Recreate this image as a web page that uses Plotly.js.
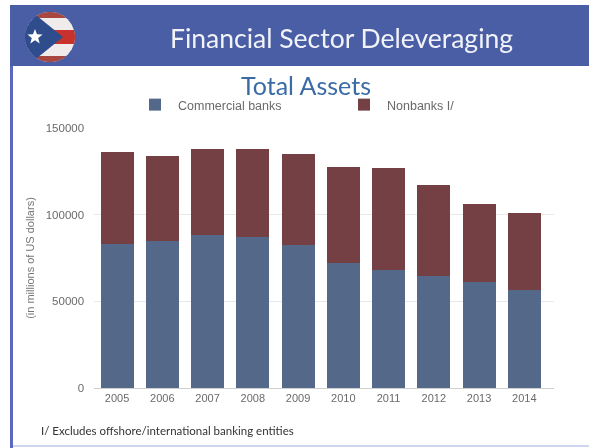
<!DOCTYPE html>
<html><head><meta charset="utf-8">
<script src="https://cdn.plot.ly/plotly-3.0.1.min.js"></script>
<style>html,body{margin:0;padding:0;background:#fff;overflow:hidden}#c{width:589px;height:448px;filter:blur(.4px)}</style>
</head><body><div id="c"></div>
<script>
const years=['2005','2006','2007','2008','2009','2010','2011','2012','2013','2014'];
const commercialBanks=[83000,85000,88000,87000,82500,72000,68000,64500,61000,56500];
const nonbanks=[53000,49000,50000,51000,52500,55500,59000,52500,45000,44500];
const W=589,H=448;
const px=x=>x/W, py=y=>1-y/H;
const rect=(x0,y0,x1,y1,fill)=>({type:'rect',xref:'paper',yref:'paper',layer:'below',x0:px(x0),x1:px(x1),y0:py(y0),y1:py(y1),fillcolor:fill,line:{width:0}});
const poly=(pts,fill)=>({type:'path',xref:'paper',yref:'paper',path:'M'+pts.map(p=>px(p[0])+','+py(p[1])).join('L')+'Z',fillcolor:fill,line:{width:0}});
const star=(cx,cy,r)=>{const o=[];for(let i=0;i<10;i++){const a=-Math.PI/2+i*Math.PI/5,q=i%2?r*.42:r;o.push([cx+q*Math.cos(a),cy+q*Math.sin(a)]);}return o;};
const FX=50,FY=37,FR=25;
const arc=(a0,a1)=>{const o=[];for(let i=0;i<=24;i++){const a=(a0+(a1-a0)*i/24)*Math.PI/180;o.push([FX+FR*Math.cos(a),FY+FR*Math.sin(a)]);}return o;};
const band=(y0,y1)=>{const a=y=>Math.asin((y-FY)/FR)*180/Math.PI;return arc(a(y0),a(y1)).concat(arc(180-a(y1),180-a(y0)));};
const shapes=[
 rect(10,5,589,66,'#4a5ea6'),
 rect(10,66,13,448,'#5a68c0'),
 rect(13,445,589,447,'#cdd6ee'),
 poly(arc(0,360),'#f0ecec'),
 poly(band(12,18),'#a8473f'),
 poly(band(30,44),'#c8322d'),
 poly(band(56,62),'#a8473f'),
 poly([[63,37]].concat(arc(122,238)),'#2f4d8c'),
 poly(star(35,37,8),'#ffffff')
];
const data=[
 {type:'bar',name:'Commercial banks',x:years,y:commercialBanks,marker:{color:'#54698a'}},
 {type:'bar',name:'Nonbanks I/',x:years,y:nonbanks,marker:{color:'#754044'}}
];
const layout={
 width:W,height:H,margin:{l:0,r:0,t:0,b:0},paper_bgcolor:'#fff',plot_bgcolor:'#fff',barmode:'stack',bargap:.27,
 font:{family:'Liberation Sans, Arial, sans-serif',size:11,color:'#6a6a6a'},
 xaxis:{domain:[px(94.4),px(554)],type:'category',range:[-0.5,9.657],showgrid:false,showline:true,linecolor:'#cfcfcf',ticks:'',tickfont:{size:11,color:'#6a6a6a'},anchor:'y'},
 yaxis:{domain:[py(388),py(128)],range:[0,150000],tickvals:[0,50000,100000,150000],ticktext:['0','50000','100000','150000'],showgrid:true,gridcolor:'#e8e8e8',zeroline:false,ticks:'outside',ticklen:7,tickcolor:'rgba(0,0,0,0)',tickfont:{size:11.5,color:'#6a6a6a'},
  title:{text:'(in millions of US dollars)',font:{size:11,color:'#777'},standoff:8},anchor:'x'},
 legend:{orientation:'h',x:px(132),y:py(90),xanchor:'left',yanchor:'top',entrywidth:158,entrywidthmode:'pixels',font:{size:12.5,color:'#6a6a6a'},traceorder:'normal',itemwidth:36},
 shapes:shapes,
 annotations:[
  {text:'Financial Sector Deleveraging',xref:'paper',yref:'paper',x:px(341),y:py(38),showarrow:false,xanchor:'center',yanchor:'middle',font:{family:'Lato, sans-serif',size:26.5,color:'#f2f3f8'}},
  {text:'Total Assets',xref:'paper',yref:'paper',x:px(306),y:py(85),showarrow:false,xanchor:'center',yanchor:'middle',font:{family:'Lato, sans-serif',size:25,color:'#3b6ba5'}},
  {text:'I/ Excludes offshore/international banking entities',xref:'paper',yref:'paper',x:px(39),y:py(430),showarrow:false,xanchor:'left',yanchor:'middle',font:{family:'Lato, sans-serif',size:11.5,color:'#333'}}
 ],
 showlegend:true
};
Plotly.newPlot('c',data,layout,{displayModeBar:false,staticPlot:true});
</script></body></html>
